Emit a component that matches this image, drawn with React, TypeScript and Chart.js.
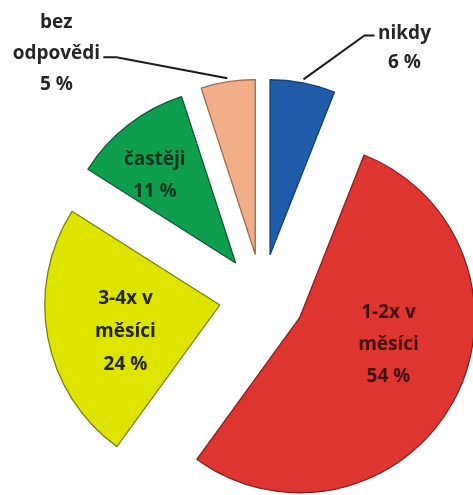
import React, { useEffect, useRef } from "react";
import { Chart, registerables } from "chart.js";

Chart.register(...registerables);

// ---- data ----
const categories = ["nikdy", "1-2x v měsíci", "3-4x v měsíci", "častěji", "bez odpovědi"];
const values = [6, 54, 24, 11, 5];
const valueLabels = ["6 %", "54 %", "24 %", "11 %", "5 %"];
const nameLines = [["nikdy"], ["1-2x v", "měsíci"], ["3-4x v", "měsíci"], ["častěji"], ["bez", "odpovědi"]];

// ---- styles ----
const fillColors = ["#1F5DAA", "#DE3530", "#DCE400", "#0F9D50", "#F2AE88"];
const borderColors = ["#123E78", "#8B1E1C", "#7D7F12", "#0A5A2E", "#9A6A50"];
const textColors = ["#262626", "#421010", "#262604", "#0a361d", "#262626"];

const EXPLODE = 43;
const RADIUS = 175;
const FONT = "bold 19px 'Open Sans', sans-serif";

type Place =
  | { kind: "inside"; frac: number; dA: number; lh: number }
  | { kind: "outside"; frac: number; elbow: [number, number]; tail: number; text: [number, number]; lh: number };

const placements: Place[] = [
  { kind: "outside", frac: 1.02, elbow: [61, -44], tail: 10, text: [30, -2], lh: 29 },
  { kind: "inside", frac: 0.53, dA: -12, lh: 32 },
  { kind: "inside", frac: 0.56, dA: -5, lh: 33 },
  { kind: "inside", frac: 0.68, dA: -5, lh: 32 },
  { kind: "outside", frac: 1.02, elbow: [-111, -21], tail: -13, text: [-47, -35], lh: 31 },
];

const explodePlugin = {
  id: "explode",
  beforeDatasetDraw(chart: any, args: any) {
    const ctx = chart.ctx;
    args.meta.data.forEach((arc: any) => {
      const mid = (arc.startAngle + arc.endAngle) / 2;
      ctx.save();
      ctx.translate(Math.cos(mid) * EXPLODE, Math.sin(mid) * EXPLODE);
      arc.draw(ctx);
      ctx.restore();
    });
    return false;
  },
};

const labelPlugin = {
  id: "sliceLabels",
  afterDatasetsDraw(chart: any) {
    const ctx = chart.ctx;
    const meta = chart.getDatasetMeta(0);
    ctx.save();
    ctx.font = FONT;
    ctx.textAlign = "center";
    ctx.textBaseline = "middle";
    meta.data.forEach((arc: any, i: number) => {
      const mid = (arc.startAngle + arc.endAngle) / 2;
      const ax = arc.x + Math.cos(mid) * EXPLODE;
      const ay = arc.y + Math.sin(mid) * EXPLODE;
      const R = arc.outerRadius;
      const lines = [...nameLines[i], valueLabels[i]];
      const p = placements[i];
      ctx.fillStyle = textColors[i];
      if (p.kind === "inside") {
        const a = mid + (p.dA * Math.PI) / 180;
        const cx = ax + Math.cos(a) * R * p.frac;
        const cy = ay + Math.sin(a) * R * p.frac;
        const top = cy - ((lines.length - 1) * p.lh) / 2;
        lines.forEach((t, k) => ctx.fillText(t, cx, top + k * p.lh));
      } else {
        const sx = ax + Math.cos(mid) * R * p.frac;
        const sy = ay + Math.sin(mid) * R * p.frac;
        const ex = sx + p.elbow[0];
        const ey = sy + p.elbow[1];
        const tx = ex + p.tail;
        ctx.strokeStyle = "#1a1a1a";
        ctx.lineWidth = 2;
        ctx.beginPath();
        ctx.moveTo(sx, sy);
        ctx.lineTo(ex, ey);
        ctx.lineTo(tx, ey);
        ctx.stroke();
        const cx = tx + p.text[0];
        const top = ey + p.text[1];
        lines.forEach((t, k) => ctx.fillText(t, cx, top + k * p.lh));
      }
    });
    ctx.restore();
  },
};

export default function App() {
  const ref = useRef<HTMLCanvasElement>(null);
  useEffect(() => {
    document.body.style.margin = "0";
    const chart = new Chart(ref.current as HTMLCanvasElement, {
      type: "pie",
      data: {
        labels: categories,
        datasets: [
          {
            data: values,
            backgroundColor: fillColors,
            borderColor: borderColors,
            borderWidth: 1.3,
          },
        ],
      },
      options: {
        responsive: false,
        animation: false,
        radius: RADIUS,
        layout: { padding: { left: 51, right: 0, top: 99, bottom: 0 } },
        plugins: {
          legend: { display: false },
          tooltip: { enabled: false },
          title: { display: false },
        },
        events: [],
      } as any,
      plugins: [explodePlugin, labelPlugin],
    });
    return () => chart.destroy();
  }, []);
  return (
    <div style={{ width: 473, height: 495, background: "#fff" }}>
      <canvas ref={ref} width={473} height={495} style={{ display: "block" }} />
    </div>
  );
}
